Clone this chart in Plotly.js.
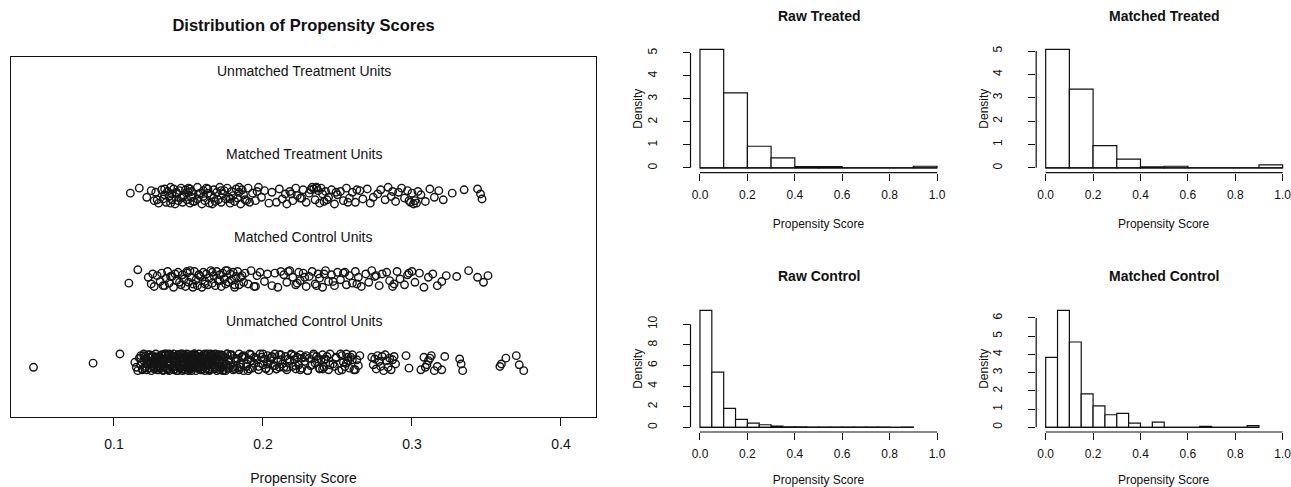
<!DOCTYPE html>
<html>
<head>
<meta charset="utf-8">
<script src="https://cdn.plot.ly/plotly-3.0.1.min.js"></script>
<style>html,body{margin:0;padding:0;background:#fff;}#chart{width:1291px;height:487px;}</style>
</head>
<body>
<div id="chart"></div>
<script>
// ---------- Jitter plot data (propensity score, vertical jitter) ----------
const groupLabels = ["Unmatched Treatment Units", "Matched Treatment Units", "Matched Control Units", "Unmatched Control Units"];
const groupLevels = [4, 3, 2, 1];

const matchedTreatedX = [
0.111,0.117,0.122,0.125,0.127,0.128,0.130,0.132,0.133,0.134,
0.135,0.136,0.137,0.138,0.139,0.139,0.140,0.141,0.142,0.143,
0.144,0.145,0.145,0.146,0.147,0.148,0.149,0.150,0.151,0.151,
0.152,0.152,0.154,0.156,0.156,0.157,0.159,0.160,0.160,0.162,
0.161,0.163,0.163,0.164,0.165,0.167,0.167,0.168,0.169,0.170,
0.171,0.172,0.173,0.174,0.175,0.176,0.177,0.178,0.179,0.180,
0.181,0.182,0.183,0.184,0.185,0.186,0.187,0.188,0.190,0.191,
0.193,0.195,0.197,0.199,0.201,0.204,0.206,0.211,0.213,0.215,
0.216,0.218,0.220,0.222,0.223,0.225,0.227,0.229,0.231,0.233,
0.234,0.235,0.236,0.237,0.238,0.239,0.240,0.241,0.242,0.244,
0.246,0.248,0.250,0.252,0.254,0.256,0.258,0.260,0.262,0.265,
0.267,0.270,0.272,0.277,0.279,0.282,0.284,0.286,0.289,0.291,
0.293,0.295,0.297,0.299,0.300,0.301,0.302,0.303,0.304,0.306,
0.309,0.312,0.315,0.318,0.321,0.327,0.335,0.344,0.346,0.347,
0.129,0.134,0.138,0.142,0.146,0.150,0.153,0.158,0.166,0.172,
0.178,0.184,0.189,0.196,0.209,0.219,0.226,0.232,0.236,0.243,
0.249,0.257,0.263,0.274,0.287,0.298];
const matchedTreatedJitter = [
0.03,0.09,-0.02,0.06,-0.06,0.04,-0.09,0.07,-0.04,0.01,
-0.08,0.05,-0.01,0.10,-0.05,0.02,0.08,-0.10,0.03,-0.06,
0.06,-0.03,0.09,-0.08,0.00,0.07,-0.05,0.04,-0.09,0.08,
-0.02,0.05,-0.07,0.10,-0.04,0.02,-0.10,0.06,-0.01,0.09,
-0.06,0.03,0.08,-0.09,0.01,-0.03,0.07,-0.07,0.04,-0.05,
0.10,-0.08,0.02,0.06,-0.04,0.09,-0.02,-0.09,0.05,0.00,
-0.07,0.08,-0.03,0.04,-0.10,0.07,0.01,-0.05,0.09,-0.08,
0.03,-0.06,0.10,-0.02,0.06,-0.09,0.04,0.08,-0.04,0.02,
-0.10,0.05,-0.06,0.09,0.00,-0.03,0.07,-0.08,0.03,0.10,
0.08,-0.05,0.10,0.06,-0.09,0.09,0.02,-0.07,0.05,-0.02,
0.07,-0.10,0.01,0.05,-0.06,0.09,-0.03,0.04,-0.08,0.06,
-0.04,0.08,-0.09,0.02,0.07,-0.05,0.10,-0.01,-0.07,0.04,
0.09,-0.03,0.06,-0.08,0.03,-0.10,-0.06,-0.09,0.05,0.01,
-0.07,0.08,-0.02,0.06,-0.05,0.03,0.07,0.08,0.02,-0.04,
-0.05,0.08,-0.09,0.04,-0.02,0.09,-0.07,0.03,-0.10,0.06,
-0.04,0.10,-0.06,0.05,-0.08,0.02,-0.03,0.07,0.09,-0.05,
0.04,-0.08,0.07,-0.02,0.05,-0.06];

const matchedControlX = [
0.110,0.116,0.123,0.125,0.127,0.129,0.131,0.132,0.134,0.135,
0.136,0.137,0.139,0.140,0.141,0.142,0.143,0.145,0.146,0.147,
0.148,0.149,0.150,0.151,0.152,0.153,0.154,0.155,0.156,0.157,
0.158,0.159,0.160,0.161,0.162,0.163,0.164,0.165,0.166,0.167,
0.168,0.169,0.170,0.171,0.172,0.173,0.174,0.175,0.176,0.177,
0.178,0.179,0.180,0.181,0.182,0.183,0.184,0.185,0.187,0.188,
0.190,0.192,0.194,0.196,0.198,0.201,0.203,0.206,0.210,0.212,
0.214,0.216,0.218,0.220,0.222,0.224,0.225,0.227,0.229,0.231,
0.233,0.235,0.237,0.238,0.240,0.242,0.244,0.246,0.248,0.250,
0.252,0.254,0.256,0.258,0.260,0.262,0.264,0.266,0.269,0.271,
0.273,0.275,0.278,0.280,0.283,0.285,0.288,0.290,0.292,0.295,
0.297,0.300,0.302,0.305,0.308,0.311,0.314,0.317,0.320,0.323,
0.330,0.338,0.344,0.348,0.351,
0.126,0.133,0.138,0.144,0.149,0.153,0.157,0.161,0.166,0.171,
0.175,0.181,0.186,0.195,0.208,0.217,0.223,0.228,0.236,0.241,
0.247,0.255,0.263,0.276,0.287,0.298];
const matchedControlJitter = [
-0.05,0.11,0.02,-0.06,-0.09,0.04,-0.03,0.07,-0.08,0.01,
0.09,-0.05,0.03,-0.10,0.06,-0.02,0.08,-0.07,0.05,0.00,
-0.09,0.07,-0.04,0.10,0.02,-0.06,0.09,-0.01,-0.08,0.05,
0.03,-0.10,0.08,-0.03,0.06,-0.07,0.01,0.10,-0.05,0.04,
-0.08,0.09,-0.02,0.05,-0.09,0.07,0.00,-0.06,0.10,-0.04,
0.06,-0.01,0.08,-0.10,0.03,0.09,-0.07,0.02,-0.04,0.07,
-0.06,0.10,-0.09,0.04,0.08,-0.03,0.06,-0.08,-0.10,0.09,
0.05,-0.04,0.10,0.02,-0.07,0.08,-0.02,0.07,-0.09,0.03,
0.09,-0.06,0.06,0.01,-0.10,0.10,-0.03,0.05,-0.08,0.08,
-0.01,0.07,-0.07,0.04,-0.05,0.09,0.02,-0.09,0.06,-0.04,
0.10,0.03,-0.08,0.06,0.08,-0.02,-0.06,0.09,0.00,-0.07,
0.05,0.09,-0.04,0.07,-0.10,0.02,0.06,-0.08,-0.03,0.04,
0.03,0.10,0.02,-0.04,0.04,
0.06,-0.08,0.03,-0.04,0.09,-0.10,0.05,-0.06,0.08,-0.02,
0.10,-0.07,0.04,-0.09,0.07,0.09,-0.05,0.02,-0.08,0.06,
-0.03,0.08,-0.06,0.04,-0.09,0.07];

const unmatchedControlX = [
0.046,0.086,0.104,0.114,0.115,0.116,0.117,0.118,0.118,0.119,
0.120,0.120,0.121,0.121,0.122,0.122,0.123,0.123,0.124,0.124,
0.125,0.125,0.126,0.126,0.127,0.127,0.128,0.128,0.129,0.129,
0.130,0.130,0.131,0.131,0.132,0.132,0.133,0.133,0.134,0.134,
0.135,0.135,0.135,0.136,0.136,0.137,0.137,0.137,0.138,0.138,
0.139,0.139,0.139,0.140,0.140,0.141,0.141,0.141,0.142,0.142,
0.143,0.143,0.143,0.144,0.144,0.145,0.145,0.145,0.146,0.146,
0.147,0.147,0.147,0.148,0.148,0.149,0.149,0.149,0.150,0.150,
0.151,0.151,0.151,0.152,0.152,0.153,0.153,0.153,0.154,0.154,
0.155,0.155,0.155,0.156,0.156,0.157,0.157,0.157,0.158,0.158,
0.159,0.159,0.159,0.160,0.160,0.161,0.161,0.161,0.162,0.162,
0.163,0.163,0.163,0.164,0.164,0.165,0.165,0.165,0.166,0.166,
0.167,0.167,0.168,0.168,0.169,0.169,0.170,0.170,0.171,0.171,
0.172,0.172,0.173,0.173,0.174,0.174,0.175,0.176,0.176,0.177,
0.178,0.179,0.180,0.181,0.182,0.183,0.184,0.185,0.186,0.187,
0.188,0.189,0.190,0.191,0.192,0.194,0.195,0.197,0.198,0.200,
0.201,0.202,0.203,0.204,0.205,0.206,0.207,0.208,0.209,0.210,
0.211,0.212,0.213,0.215,0.216,0.217,0.219,0.220,0.221,0.222,
0.223,0.224,0.225,0.226,0.228,0.229,0.230,0.231,0.232,0.234,
0.235,0.236,0.238,0.239,0.240,0.241,0.242,0.244,0.245,0.247,
0.249,0.251,0.253,0.254,0.255,0.256,0.257,0.258,0.260,0.262,
0.264,0.273,0.274,0.275,0.276,0.277,0.278,0.279,0.280,0.281,
0.282,0.283,0.284,0.285,0.286,0.287,0.288,0.289,0.296,0.298,
0.306,0.308,0.309,0.310,0.311,0.312,0.313,0.315,0.317,0.320,
0.322,0.332,0.333,0.334,0.359,0.360,0.363,0.370,0.372,0.375,
0.118,0.121,0.124,0.126,0.128,0.129,0.131,0.132,0.134,0.136,
0.137,0.138,0.140,0.141,0.142,0.143,0.144,0.145,0.146,0.147,
0.148,0.149,0.150,0.151,0.152,0.153,0.154,0.155,0.156,0.157,
0.158,0.159,0.160,0.161,0.162,0.163,0.164,0.165,0.166,0.167,
0.168,0.169,0.170,0.171,0.172,0.173,0.174,0.175,0.176,0.177,
0.122,0.125,0.127,0.130,0.133,0.135,0.138,0.140,0.143,0.146,
0.149,0.151,0.154,0.156,0.159,0.162,0.164,0.167,0.170,0.173,
0.178,0.180,0.182,0.184,0.186,0.189,0.191,0.193,0.196,0.199,
0.202,0.205,0.208,0.211,0.214,0.218,0.221,0.225,0.228,0.233,
0.237,0.240,0.243,0.248,0.252,0.256,0.259,0.261,0.263,0.265,
0.119,0.123,0.127,0.131,0.134,0.137,0.139,0.142,0.144,0.147,
0.150,0.152,0.155,0.157,0.160,0.163,0.165,0.168,0.171,0.174,
0.120,0.126,0.130,0.136,0.141,0.146,0.152,0.158,0.163,0.169,
0.176,0.179,0.181,0.183,0.185,0.187,0.190,0.192,0.194,0.197,
0.200,0.203,0.206,0.209,0.212,0.216,0.219,0.222,0.226,0.230,
0.234,0.238,0.241,0.245,0.249,0.253,0.257,0.260,0.128,0.148];
const unmatchedControlJitter = [
-0.06,-0.01,0.10,0.00,-0.06,-0.10,0.05,-0.03,0.08,-0.08,
0.02,0.10,-0.05,0.07,-0.09,0.04,-0.02,0.09,-0.07,0.01,
0.06,-0.10,0.08,-0.04,0.03,-0.08,0.10,-0.01,0.05,-0.06,
-0.09,0.07,0.00,-0.05,0.09,-0.03,0.04,-0.10,0.08,0.02,
-0.07,0.05,0.10,-0.02,-0.08,0.06,0.01,-0.10,0.09,-0.04,
0.03,-0.06,0.08,0.10,-0.09,0.04,-0.01,0.07,-0.05,0.02,
-0.10,0.09,-0.03,0.06,-0.07,0.00,0.10,-0.04,0.05,-0.08,
0.08,-0.02,0.04,-0.09,0.07,-0.06,0.02,0.10,-0.10,0.03,
-0.05,0.06,-0.08,0.01,0.09,-0.03,0.07,-0.07,0.10,-0.01,
0.04,-0.10,0.08,-0.06,0.02,0.10,-0.04,0.06,-0.09,0.00,
-0.08,0.07,-0.02,0.09,-0.05,0.03,-0.10,0.05,0.08,-0.07,
0.01,-0.04,0.10,-0.09,0.06,-0.01,0.08,-0.06,0.03,0.09,
-0.03,0.05,-0.08,0.10,-0.10,0.04,0.07,-0.05,0.00,-0.09,
0.09,-0.06,0.02,0.08,-0.03,0.06,-0.10,0.10,-0.07,0.03,
-0.04,0.08,-0.09,0.05,0.01,-0.07,0.10,-0.02,0.06,-0.10,
0.07,-0.05,0.03,-0.08,0.09,-0.01,0.05,-0.09,0.10,-0.03,
0.04,-0.07,0.08,-0.10,0.02,0.06,-0.04,0.10,-0.08,0.01,
-0.06,0.09,-0.02,0.07,-0.09,0.04,0.10,-0.05,0.03,-0.08,
0.06,-0.03,0.09,-0.07,0.01,0.08,-0.10,0.05,-0.04,0.10,
-0.01,0.07,-0.08,0.03,0.09,-0.06,0.04,-0.09,0.10,-0.02,
0.05,-0.10,0.08,0.00,-0.05,0.10,0.06,-0.07,0.03,-0.09,
-0.04,0.06,-0.03,0.04,-0.08,0.08,0.01,-0.05,0.07,-0.10,
0.09,0.02,-0.06,0.05,-0.09,0.03,0.07,-0.02,0.08,-0.07,
-0.09,0.06,-0.06,-0.03,0.02,0.05,0.08,-0.10,-0.05,-0.09,
0.07,0.04,-0.02,-0.10,-0.05,-0.02,0.05,0.08,-0.03,-0.10,
0.05,-0.07,0.09,-0.02,0.06,-0.09,0.03,0.08,-0.05,0.00,
0.10,-0.04,0.07,-0.08,0.02,0.09,-0.06,0.04,-0.10,0.06,
-0.03,0.08,-0.07,0.03,-0.10,0.05,0.09,-0.02,0.07,-0.06,
0.02,-0.09,0.06,0.10,-0.04,0.01,-0.08,0.07,-0.01,0.04,
-0.06,0.03,0.09,-0.05,0.08,-0.10,0.05,-0.03,0.10,-0.07,
-0.02,0.07,-0.06,0.04,-0.09,0.09,0.00,-0.05,0.08,-0.08,
0.06,-0.03,0.10,-0.07,0.02,0.05,-0.10,0.08,-0.04,0.01,
0.09,-0.06,0.04,-0.09,0.07,-0.02,0.10,-0.07,0.03,0.06,
-0.08,0.05,-0.04,0.09,-0.06,0.02,0.08,-0.09,0.06,-0.03,
0.04,-0.08,0.07,-0.05,0.10,-0.01,0.06,-0.09,0.03,0.08,
-0.09,0.06,0.02,-0.07,0.10,-0.03,0.07,-0.10,0.04,0.09,
-0.05,0.01,0.08,-0.08,0.05,-0.02,0.10,-0.06,0.03,-0.09,
0.08,-0.04,0.06,-0.09,0.02,0.10,-0.07,0.05,-0.01,0.07,
-0.03,0.09,-0.08,0.04,-0.06,0.08,-0.10,0.02,0.06,-0.05,
0.10,-0.02,0.07,-0.08,0.03,-0.06,0.09,-0.04,0.05,-0.10,
0.08,-0.07,0.03,-0.03,0.06,-0.09,0.02,0.09,-0.01,-0.06];

// ---------- Histogram data (bin edges, densities) ----------
const rawTreatedEdges = [0,0.1,0.2,0.3,0.4,0.5,0.6,0.7,0.8,0.9,1.0];
const rawTreatedDensity = [5.15,3.26,0.94,0.43,0.05,0.05,0,0,0,0.07];
const matchedTreatedEdges = [0,0.1,0.2,0.3,0.4,0.5,0.6,0.7,0.8,0.9,1.0];
const matchedTreatedDensity = [5.07,3.37,0.95,0.37,0.04,0.07,0,0,0,0.13];
const rawControlEdges = [0,0.05,0.1,0.15,0.2,0.25,0.3,0.35,0.4,0.45,0.5,0.55,0.6,0.65,0.7,0.75,0.8,0.85,0.9];
const rawControlDensity = [11.35,5.36,1.83,0.77,0.4,0.25,0.12,0.05,0.04,0.03,0.02,0.01,0.01,0.01,0.01,0.01,0,0.01];
const matchedControlEdges = [0,0.05,0.1,0.15,0.2,0.25,0.3,0.35,0.4,0.45,0.5,0.55,0.6,0.65,0.7,0.75,0.8,0.85,0.9];
const matchedControlDensity = [3.84,6.42,4.68,1.83,1.18,0.69,0.76,0.23,0,0.29,0,0,0,0.05,0,0,0,0.09];

const histTitles = ["Raw Treated", "Matched Treated", "Raw Control", "Matched Control"];
const histYTicks = [[0,1,2,3,4,5],[0,1,2,3,4,5],[0,2,4,6,8,10],[0,1,2,3,4,5,6]];
const histXTicks = [0,0.2,0.4,0.6,0.8,1.0];
const jitterXTicks = [0.1,0.2,0.3,0.4];

// ---------- Build ----------
const FONT = "Liberation Sans, Arial, Helvetica, sans-serif";
const INK = "#111";
const W = 1291, H = 487;
const px = v => v / W;
const py = v => 1 - v / H;

const traces = [];
const jitterGroups = [
  {x: [], j: [], level: 4},
  {x: matchedTreatedX, j: matchedTreatedJitter, level: 3},
  {x: matchedControlX, j: matchedControlJitter, level: 2},
  {x: unmatchedControlX, j: unmatchedControlJitter, level: 1}
];
jitterGroups.forEach(g => {
  const n = Math.min(g.x.length, g.j.length);
  traces.push({
    type: "scatter", mode: "markers", xaxis: "x", yaxis: "y",
    x: g.x.slice(0, n), y: g.j.slice(0, n).map(v => g.level + v),
    marker: {symbol: "circle-open", size: 7.5, color: "#151515", line: {width: 1.4, color: "#151515"}},
    hoverinfo: "x"
  });
});

const hists = [
  {e: rawTreatedEdges, d: rawTreatedDensity},
  {e: matchedTreatedEdges, d: matchedTreatedDensity},
  {e: rawControlEdges, d: rawControlDensity},
  {e: matchedControlEdges, d: matchedControlDensity}
];
hists.forEach((h, i) => {
  const ax = String(i + 2);
  const centers = h.d.map((_, k) => (h.e[k] + h.e[k + 1]) / 2);
  const widths = h.d.map((_, k) => h.e[k + 1] - h.e[k]);
  traces.push({
    type: "scatter", mode: "lines", xaxis: "x" + ax, yaxis: "y" + ax,
    x: [h.e[0], h.e[h.e.length - 1]], y: [0, 0],
    line: {color: INK, width: 1.2}, hoverinfo: "skip"
  });
  traces.push({
    type: "bar", xaxis: "x" + ax, yaxis: "y" + ax,
    x: centers, y: h.d, width: widths,
    marker: {color: "#ffffff", line: {color: INK, width: 1.2}}
  });
});

const leftX = [px(11), px(596)], leftY = [py(417.3), py(57.3)];
const rtX = [px(690.5), px(946.5)], mtX = [px(1036.2), 1];
const topY = [py(172.6), py(44.7)], botY = [py(432), py(305.6)];
const xDomains = [rtX, mtX, rtX, mtX];
const yDomains = [topY, topY, botY, botY];

const layout = {
  width: W, height: H,
  margin: {l: 0, r: 0, t: 0, b: 0},
  paper_bgcolor: "#fff", plot_bgcolor: "#fff",
  showlegend: false,
  font: {family: FONT, color: INK},
  title: {
    text: "<b>Distribution of Propensity Scores</b>",
    font: {family: FONT, size: 16.5, color: INK},
    x: (leftX[0] + leftX[1]) / 2, xanchor: "center",
    y: py(25), yanchor: "middle", xref: "paper", yref: "paper"
  },
  xaxis: {
    domain: leftX, anchor: "y", range: [0.0309, 0.4235],
    tickvals: jitterXTicks, ticktext: jitterXTicks.map(v => v.toFixed(1)),
    ticks: "outside", ticklen: 8, tickwidth: 1, tickcolor: INK,
    ticklabelstandoff: 6,
    showline: true, mirror: true, linecolor: INK, linewidth: 1.1,
    showgrid: false, zeroline: false,
    tickfont: {size: 14, family: FONT, color: INK},
    title: {text: "Propensity Score", font: {size: 14, family: FONT, color: INK}, standoff: 22}
  },
  yaxis: {
    domain: leftY, anchor: "x", range: [0.34, 4.66],
    showticklabels: false, ticks: "",
    showline: true, mirror: true, linecolor: INK, linewidth: 1.1,
    showgrid: false, zeroline: false
  },
  annotations: [],
  shapes: []
};

groupLabels.forEach((t, i) => {
  layout.annotations.push({
    xref: "x", yref: "y", x: (layout.xaxis.range[0] + layout.xaxis.range[1]) / 2,
    y: groupLevels[i] + 0.5, text: t, showarrow: false,
    font: {size: 14, family: FONT, color: INK}, xanchor: "center", yanchor: "middle"
  });
});

hists.forEach((h, i) => {
  const ax = String(i + 2);
  const maxD = Math.max(...h.d);
  const xr0 = -0.04;
  const xr1 = i % 2 === 0 ? 1.04 : -0.04 + (W - 1036.2) / 237;
  layout["xaxis" + ax] = {
    domain: xDomains[i], anchor: "y" + ax, range: [xr0, xr1],
    tickvals: histXTicks, ticktext: histXTicks.map(v => v.toFixed(1)),
    ticks: "outside", ticklen: 7, tickwidth: 1.1, tickcolor: INK,
    ticklabelstandoff: 4,
    showline: false, showgrid: false, zeroline: false,
    ticklabeloverflow: "allow",
    tickfont: {size: 12, family: FONT, color: INK},
    title: {text: "Propensity Score", font: {size: 12, family: FONT, color: INK}, standoff: 18}
  };
  layout["yaxis" + ax] = {
    domain: yDomains[i], anchor: "x" + ax, range: [-0.04 * maxD, 1.04 * maxD],
    tickvals: histYTicks[i], tickangle: -90,
    ticks: "outside", ticklen: 7, tickwidth: 1.1, tickcolor: INK,
    ticklabelstandoff: 21,
    showline: false, showgrid: false, zeroline: false,
    tickfont: {size: 12, family: FONT, color: INK},
    title: {text: "Density", font: {size: 12, family: FONT, color: INK}, standoff: 0}
  };
  layout.shapes.push({
    type: "line", xref: "x" + ax, yref: "y" + ax + " domain",
    x0: histXTicks[0], x1: histXTicks[histXTicks.length - 1], y0: 0, y1: 0,
    line: {color: INK, width: 1.2}
  });
  const yt = histYTicks[i];
  layout.shapes.push({
    type: "line", xref: "x" + ax + " domain", yref: "y" + ax,
    x0: 0, x1: 0, y0: yt[0], y1: yt[yt.length - 1],
    line: {color: INK, width: 1.2}
  });
  layout.annotations.push({
    xref: "paper", yref: "paper",
    x: (xDomains[i][0] + (i % 2 === 0 ? xDomains[i][1] : px(1292.2))) / 2,
    y: i < 2 ? py(16) : py(276),
    text: "<b>" + histTitles[i] + "</b>", showarrow: false,
    font: {size: 14, family: FONT, color: INK}, xanchor: "center", yanchor: "middle"
  });
});

Plotly.newPlot("chart", traces, layout, {displayModeBar: false, responsive: false});
</script>
</body>
</html>
